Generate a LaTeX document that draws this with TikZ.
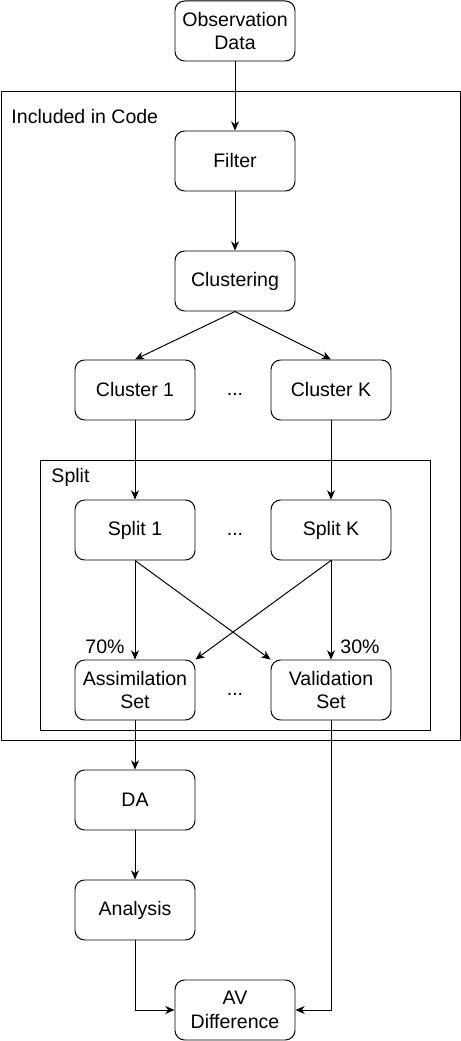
\documentclass[tikz,border=0pt]{standalone}
\usepackage{fontspec}
\setmainfont{Liberation Sans}
\usetikzlibrary{arrows.meta, positioning}

\begin{document}
\begin{tikzpicture}[
  >={Stealth[length=2.3mm, width=2mm, inset=0.7mm]},
  font=\fontsize{13.9}{17}\selectfont,
  stage/.style={
    draw, line width=0.7pt, fill=white, rounded corners=0.24cm,
    minimum width=3cm, minimum height=1.5cm, align=center, inner sep=2pt
  },
  frame/.style={draw, line width=0.7pt},
  framelabel/.style={anchor=west, inner sep=0pt},
  arr/.style={->, line width=0.7pt, black},
  pct/.style={inner sep=0pt},
]

% Page size
\useasboundingbox (0,0) rectangle (11.525,26.025);

% =============================================
% Frames
% =============================================
\draw[frame] (0.025,7.525) rectangle (11.5,23.75);
\node[framelabel] (codelbl) at (0.28,23.1) {Included in Code};

\draw[frame] (1.0,7.775) rectangle (10.75,14.525);
\node[framelabel] (splitlbl) at (1.28,14.1) {Split};

% =============================================
% Stages
% =============================================
\node[stage] (obs) at (5.875,25.25) {Observation\\Data};
\node[stage] (filt) at (5.875,22.0) {Filter};
\node[stage] (clus) at (5.875,19.0) {Clustering};

\node[stage] (cl1) at (3.375,16.275) {Cluster 1};
\node[pct] (cldots) at (5.875,16.17) {...};
\node[stage] (clK) at (8.275,16.275) {Cluster K};

\node[stage] (sp1) at (3.375,12.775) {Split 1};
\node[pct] (spdots) at (5.875,12.67) {...};
\node[stage] (spK) at (8.275,12.775) {Split K};

\node[stage] (asim) at (3.375,8.775) {Assimilation\\Set};
\node[pct] (setdots) at (5.875,8.67) {...};
\node[stage] (valid) at (8.275,8.775) {Validation\\Set};

\node[pct] (p70) at (2.625,9.85) {70\%};
\node[pct] (p30) at (9.0,9.85) {30\%};

\node[stage] (da) at (3.375,6.025) {DA};
\node[stage] (ana) at (3.375,3.275) {Analysis};
\node[stage] (avd) at (5.875,0.775) {AV\\Difference};

% =============================================
% Arrows
% =============================================
\draw[arr] (obs.south) -- (filt.north);
\draw[arr] (filt.south) -- (clus.north);
\draw[arr] (clus.south) -- (cl1.north);
\draw[arr] (clus.south) -- (clK.north);
\draw[arr] (cl1.south) -- (sp1.north);
\draw[arr] (clK.south) -- (spK.north);

\draw[arr] (sp1.south) -- (asim.north);
\draw[arr] (sp1.south) -- (valid.north west);
\draw[arr] (spK.south) -- (asim.north east);
\draw[arr] (spK.south) -- (valid.north);

\draw[arr] (asim.south) -- (da.north);
\draw[arr] (da.south) -- (ana.north);
\draw[arr] (ana.south) |- (avd.west);
\draw[arr] (valid.south) |- (avd.east);

\end{tikzpicture}
\end{document}
